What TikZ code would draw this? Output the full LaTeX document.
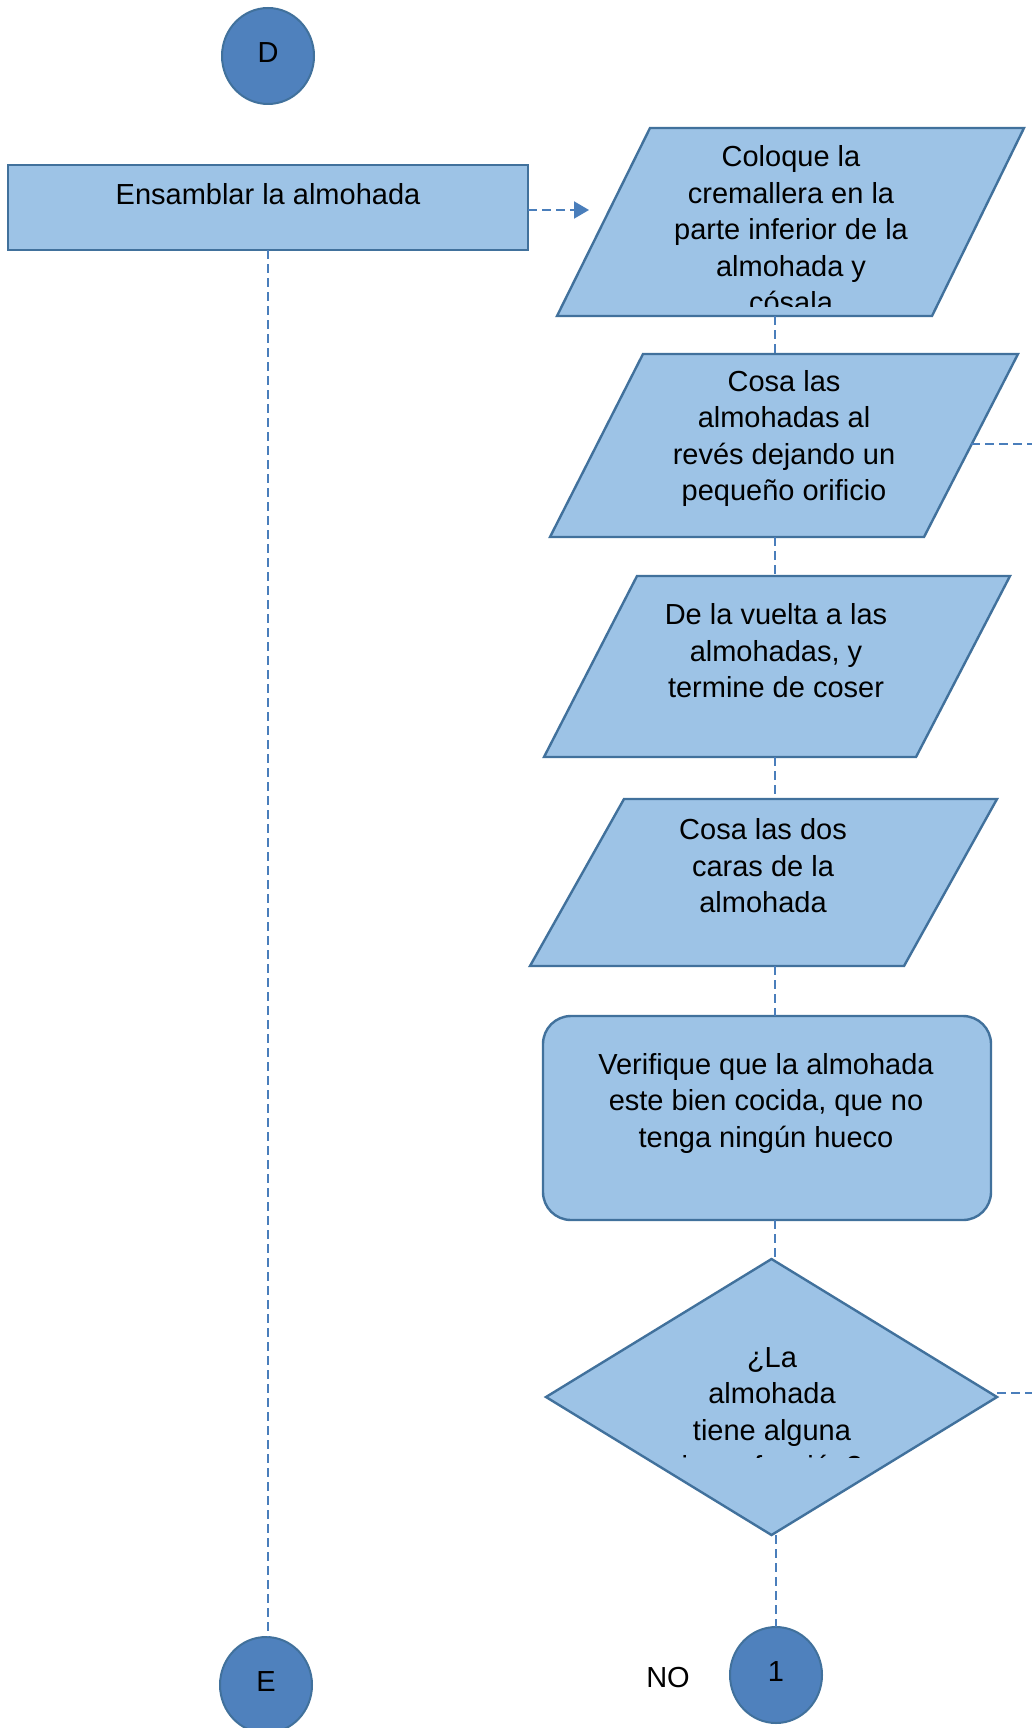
\documentclass[tikz,border=0pt]{standalone}
\usepackage{fontspec}
\setmainfont{Liberation Sans}
\usetikzlibrary{shapes.geometric,arrows.meta,calc}
\definecolor{fillblue}{HTML}{9DC3E6}
\definecolor{edgeblue}{HTML}{41719C}
\definecolor{circblue}{HTML}{4F81BD}
\definecolor{linkblue}{HTML}{4A7EBB}
\begin{document}
\begin{tikzpicture}[x=1pt,y=-1pt,
  every node/.style={font=\fontsize{29}{36.5}\selectfont, inner sep=0pt, outer sep=0pt},
  frame/.style={rectangle, draw=none},
  boxshape/.style={draw=edgeblue, fill=fillblue, line width=2.4pt, line join=miter},
  conn/.style={draw=linkblue, line width=2pt, dash pattern=on 9pt off 5pt},
  circ/.style={ellipse, draw=edgeblue, fill=circblue, line width=2pt, minimum width=92pt, minimum height=96pt, text depth=6pt},
  txt/.style={align=center, text=black}
]
\useasboundingbox (0,0) rectangle (1032,1728);
\fill[white] (0,0) rectangle (1032,1728);

% ---- shapes ----
\node[circ] (cD) at (268,56) {D};
\node[rectangle, boxshape, minimum width=520pt, minimum height=85pt] (ens) at (268,207.5) {};

\node[frame, minimum width=467pt, minimum height=188pt] (p1) at (790.5,222) {};
\draw[boxshape] (p1.south west) -- ([xshift=-92pt]p1.south east) -- (p1.north east) -- ([xshift=93pt]p1.north west) -- cycle;

\node[frame, minimum width=468pt, minimum height=183pt] (p2) at (784,445.5) {};
\draw[boxshape] (p2.south west) -- ([xshift=-94pt]p2.south east) -- (p2.north east) -- ([xshift=93pt]p2.north west) -- cycle;

\node[frame, minimum width=466pt, minimum height=181pt] (p3) at (777,666.5) {};
\draw[boxshape] (p3.south west) -- ([xshift=-94pt]p3.south east) -- (p3.north east) -- ([xshift=93pt]p3.north west) -- cycle;

\node[frame, minimum width=467pt, minimum height=167pt] (p4) at (763.5,882.5) {};
\draw[boxshape] (p4.south west) -- ([xshift=-93pt]p4.south east) -- (p4.north east) -- ([xshift=94pt]p4.north west) -- cycle;

\node[rectangle, boxshape, rounded corners=28pt, minimum width=448pt, minimum height=204pt] (rr) at (767,1118) {};

\node[frame, minimum width=451pt, minimum height=276pt] (dia) at (771.5,1397) {};
\draw[boxshape] (dia.north) -- (dia.east) -- (dia.south) -- (dia.west) -- cycle;

\node[circ] (cE) at (266,1685) {E};
\node[circ] (c1) at (776,1675) {1};

% ---- texts ----
\node[txt] (tens) at (268,194) {Ensamblar la almohada};
\begin{scope}
\clip (0,0) rectangle (1032,306);
\node[txt] (t1) at (791,229.5) {Coloque la\\cremallera en la\\parte inferior de la\\almohada y\\cósala};
\end{scope}
\node[txt] (t2) at (784,438.5) {Cosa las\\almohadas al\\revés dejando un\\pequeño orificio};
\node[txt] (t3) at (776,651) {De la vuelta a las\\almohadas, y\\termine de coser};
\node[txt] (t4) at (763,866) {Cosa las dos\\caras de la\\almohada};
\node[txt] (t5) at (766,1103) {Verifique que la almohada\\este bien cocida, que no\\tenga ningún hueco};
\begin{scope}
\clip (0,0) rectangle (1032,1457);
\node[txt] (t6) at (772,1415) {¿La\\almohada\\tiene alguna\\imperfección?};
\end{scope}
\node[txt] (tno) at (668,1677) {NO};

% ---- connectors ----
\coordinate (colx) at (775,0);
\coordinate (arrowend) at (589,210);
\coordinate (edge1) at (1032,444);
\coordinate (edge2) at (1032,1393);
\coordinate (p2r) at ($(p2.north east)!0.5!([xshift=-94pt]p2.south east)$);

\draw[conn, -{Triangle[length=15pt,width=17pt]}] (ens.east |- arrowend) -- (arrowend);
\draw[conn] (ens.south) -- (ens.south |- cE.north);
\draw[conn] (p1.south -| colx) -- (p2.north -| colx);
\draw[conn] (p2.south -| colx) -- (p3.north -| colx);
\draw[conn] (p3.south -| colx) -- (p4.north -| colx);
\draw[conn] (p4.south -| colx) -- (rr.north -| colx);
\draw[conn] (rr.south -| colx) -- (dia.north -| colx);
\draw[conn] (dia.south -| c1.north) -- (c1.north);
\draw[conn] (p2r |- edge1) -- (edge1);
\draw[conn] (edge2 -| dia.east) -- (edge2);
\end{tikzpicture}
\end{document}
